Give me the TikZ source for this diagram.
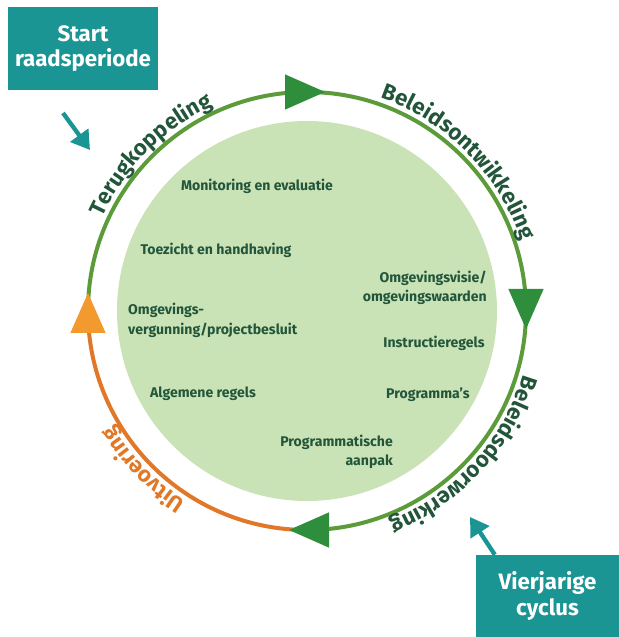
\documentclass[tikz,border=0pt]{standalone}
\usepackage{fontspec}
\setmainfont{Fira Sans}
\usetikzlibrary{arrows.meta,decorations.text}
\definecolor{ringgroen}{HTML}{5B9B3A}
\definecolor{pijlgroen}{HTML}{2F8E3C}
\definecolor{oranje}{HTML}{E07828}
\definecolor{pijloranje}{HTML}{F29A2E}
\definecolor{vlakgroen}{HTML}{C9E3B7}
\definecolor{tekstgroen}{HTML}{22553A}
\definecolor{petrol}{HTML}{1B9494}
\newcommand\ringfont{\bfseries\fontsize{19}{22}\selectfont}

\begin{document}
\begin{tikzpicture}[
    binnen/.style={text=tekstgroen, font=\bfseries\fontsize{12}{16.5}\selectfont, inner sep=0pt},
    kader/.style={fill=petrol, text=white, font=\bfseries\fontsize{19}{21.5}\selectfont, align=center},
    wijzer/.style={petrol, line width=1.3mm, -{Triangle[length=5.5mm,width=6.5mm]}},
    boog/.style={line width=1.2mm}
]
    \useasboundingbox (-9.21,-9.78) rectangle (9.36,9.33);

    % Vlak
    \fill[vlakgroen] (0,0) circle (5.7);

    % Ring
    \draw[boog, ringgroen] (180:6.57) arc[start angle=180, end angle=-90, radius=6.57];
    \draw[boog, oranje] (270:6.57) arc[start angle=270, end angle=180, radius=6.57];

    % Pijlpunten
    \foreach \hoek/\kleur in {90/pijlgroen, 0/pijlgroen, -90/pijlgroen, 180/pijloranje}
        \fill[\kleur, shift={(\hoek:6.57)}, rotate=\hoek-90] (-0.66,0.53) -- (0.54,0) -- (-0.66,-0.53) -- cycle;

    % Fasen
    \path[decorate, decoration={text along path, text align=center,
        text={|\ringfont\color{tekstgroen}|Terugkoppeling}}]
        (165:6.76) arc[start angle=165, end angle=105, radius=6.76];
    \path[decorate, decoration={text along path, text align=center,
        text={|\ringfont\color{tekstgroen}|Beleidsontwikkeling}}]
        (78:6.76) arc[start angle=78, end angle=11, radius=6.76];
    \path[decorate, decoration={text along path, text align=center,
        text={|\ringfont\color{tekstgroen}|Beleidsdoorwerking}}]
        (-9:6.76) arc[start angle=-9, end angle=-76, radius=6.76];
    \path[decorate, decoration={text along path, text align=center,
        text={|\ringfont\color{oranje}|Uitvoering}}]
        (254:6.76) arc[start angle=254, end angle=194, radius=6.76];

    % Instrumenten
    \node[binnen] (monitoring) at (-1.5,3.75) {Monitoring en evaluatie};
    \node[binnen] (toezicht) at (-2.73,1.83) {Toezicht en handhaving};
    \node[binnen, anchor=west, align=left] (vergunning) at (-5.37,-0.28) {Omgevings-\\vergunning/projectbesluit};
    \node[binnen] (regels) at (-3.12,-2.49) {Algemene regels};
    \node[binnen, anchor=east, align=right] (visie) at (5.4,0.69) {Omgevingsvisie/\\omgevingswaarden};
    \node[binnen] (instructie) at (3.81,-0.96) {Instructieregels};
    \node[binnen] (programma) at (3.63,-2.52) {Programma’s};
    \node[binnen, anchor=east, align=right] (aanpak) at (2.58,-4.22) {Programmatische\\aanpak};

    % Kaders
    \node[kader, minimum width=4.5cm, minimum height=2.49cm] (start) at (-6.72,7.875) {Start\\raadsperiode};
    \node[kader, minimum width=4.29cm, minimum height=2.46cm] (cyclus) at (7.215,-8.55) {Vierjarige\\cyclus};

    % Wijzers
    \coordinate (startpunt) at (-7.32,5.94);
    \coordinate (startdoel) at (-6.51,4.83);
    \coordinate (cyclusdoel) at (4.89,-6.18);
    \draw[wijzer] (startpunt) -- (startdoel);
    \draw[wijzer] ([xshift=-1.58cm]cyclus.north) -- (cyclusdoel);
\end{tikzpicture}
\end{document}
